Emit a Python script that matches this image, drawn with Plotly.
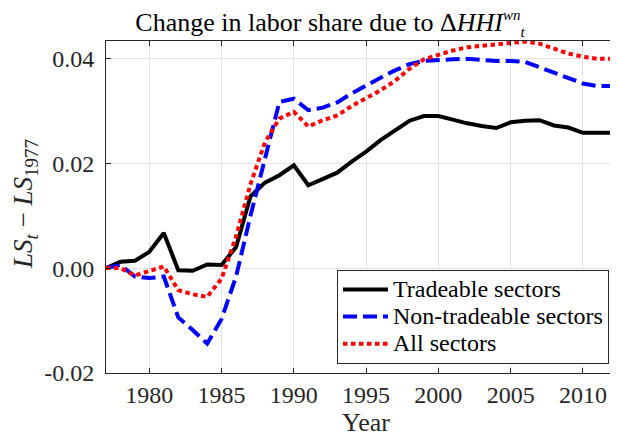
import plotly.graph_objects as go

years = list(range(1977, 2014))
tradeable = [0.0, 0.0012, 0.0014, 0.0031, 0.0067, -0.0004, -0.0005, 0.0007, 0.0006, 0.0040,
             0.0137, 0.0163, 0.0177, 0.0196, 0.0158, 0.0171, 0.0182, 0.0203, 0.0222, 0.0244,
             0.0263, 0.0281, 0.0290, 0.0290, 0.0283, 0.0276, 0.0271, 0.0267, 0.0278, 0.0281,
             0.0282, 0.0272, 0.0268, 0.0258, 0.0258, 0.0258, 0.0270]
non_tradeable = [0.0, 0.0006, -0.0016, -0.0019, -0.0016, -0.0094, -0.0118, -0.0144, -0.0097, -0.0016,
                 0.0100, 0.0212, 0.0317, 0.0323, 0.0301, 0.0306, 0.0316, 0.0333, 0.0349, 0.0363,
                 0.0377, 0.0389, 0.0395, 0.0397, 0.0398, 0.0399, 0.0397, 0.0395, 0.0395, 0.0393,
                 0.0383, 0.0372, 0.0361, 0.0352, 0.0347, 0.0347, 0.0347]
all_sectors = [0.0, 0.0, -0.0014, -0.0006, 0.0003, -0.0042, -0.0050, -0.0055, -0.0020, 0.0060,
               0.0160, 0.0240, 0.0285, 0.0298, 0.0270, 0.0282, 0.0291, 0.0309, 0.0323, 0.0339,
               0.0357, 0.0380, 0.0398, 0.0407, 0.0415, 0.0421, 0.0424, 0.0427, 0.0430, 0.0432,
               0.0428, 0.0418, 0.0409, 0.0403, 0.0399, 0.0399, 0.0399]

series_names = ["Tradeable sectors", "Non-tradeable sectors", "All sectors"]
x_tickvals = [1980, 1985, 1990, 1995, 2000, 2005, 2010]
y_tickvals = [-0.02, 0.0, 0.02, 0.04]
y_ticktext = ["-0.02", "0.00", "0.02", "0.04"]

FONT = "Liberation Serif"
AX = "#262626"
GRID = "#e3e3e3"

# page body has an 8px margin; size the figure so it fills the 618x437 window
OFF = 8
W, H = 618 - OFF, 437 - OFF
L, R, T, B = 106 - OFF, 0, 41 - OFF, 64
PW = W - L - R
PH = H - T - B


def px_x(page_x):
    return (page_x - OFF - L) / PW


def px_y(page_y):
    return (H - B - (page_y - OFF)) / PH


def leg_name(s):
    return '<span style="font-size:24px">' + s + "</span>"


fig = go.Figure()
fig.add_trace(go.Scatter(x=years, y=tradeable, mode="lines", name=leg_name(series_names[0]),
                         line=dict(color="#000000", width=4)))
fig.add_trace(go.Scatter(x=years, y=non_tradeable, mode="lines", name=leg_name(series_names[1]),
                         line=dict(color="#0000ff", width=4, dash="14px,6px")))
fig.add_trace(go.Scatter(x=years, y=all_sectors, mode="lines", name=leg_name(series_names[2]),
                         line=dict(color="#ff0000", width=4, dash="4.5px,3.5px")))

title_text = ("Change in labor share due to Δ<i>HHI</i>"
              '<sup><span style="font-size:15px"><i>wn</i></span></sup>'
              '<sub><span style="font-size:15px"><i>t</i></span></sub>')

fig.update_layout(
    width=W, height=H,
    margin=dict(l=L, r=R, t=T, b=B, autoexpand=False),
    paper_bgcolor="white", plot_bgcolor="white",
    font=dict(family=FONT, size=24, color="#262626"),
    title=dict(text=title_text,
               x=(330 - OFF) / W, xref="container", xanchor="center",
               y=1 - (22 - OFF) / H, yref="container", yanchor="middle",
               font=dict(family=FONT, size=26, color="#000000")),
    xaxis=dict(range=[1977, 2012.43], tickvals=x_tickvals, ticks="inside", ticklen=5,
               tickcolor=AX, showline=True, linecolor=AX, linewidth=1, mirror="ticks",
               showgrid=True, gridcolor=GRID, gridwidth=1, zeroline=False, automargin=False,
               ticklabelstandoff=0,
               tickfont=dict(family=FONT, size=24, color="#262626")),
    yaxis=dict(range=[-0.02, 0.0433], tickvals=y_tickvals, ticktext=y_ticktext, ticks="inside",
               ticklen=5, tickcolor=AX, showline=True, linecolor=AX, linewidth=1, mirror=False,
               showgrid=True, gridcolor=GRID, gridwidth=1, zeroline=False, automargin=False,
               ticklabelstandoff=6,
               tickfont=dict(family=FONT, size=24, color="#262626")),
    legend=dict(x=px_x(609), xanchor="right", y=px_y(364), yanchor="bottom",
                bgcolor="white", bordercolor=AX, borderwidth=1,
                font=dict(family=FONT, size=18.5, color="#000000"),
                itemwidth=45, tracegroupgap=0),
    showlegend=True,
    annotations=[
        dict(text="<i>LS</i><sub><i>t</i></sub> − <i>LS</i><sub>1977</sub>",
             x=px_x(25), xref="paper", y=px_y(204), yref="paper",
             textangle=-90, showarrow=False, xanchor="center", yanchor="middle",
             font=dict(family=FONT, size=27, color="#262626")),
        dict(text="Year", x=px_x(366), xref="paper", y=px_y(422), yref="paper",
             showarrow=False, xanchor="center", yanchor="middle",
             font=dict(family=FONT, size=26, color="#262626")),
    ],
)

fig.write_html("out.html")
